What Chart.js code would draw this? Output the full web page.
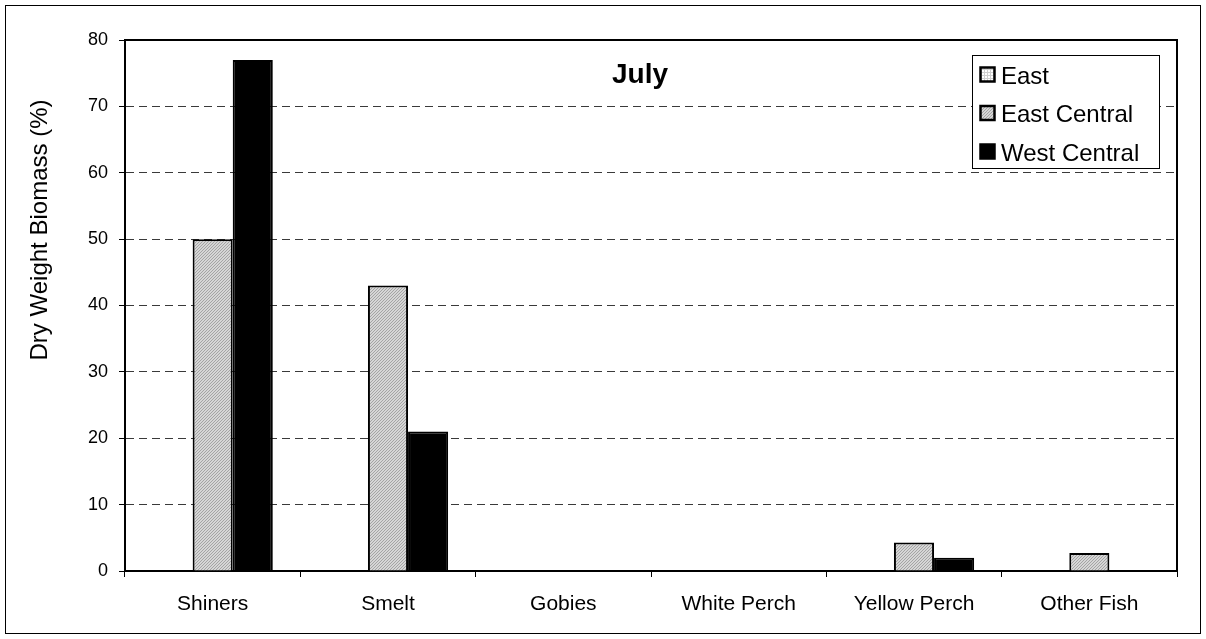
<!DOCTYPE html>
<html>
<head>
<meta charset="utf-8">
<script src="https://cdn.jsdelivr.net/npm/chart.js@4.4.1/dist/chart.umd.min.js"></script>
<style>
html, body { margin: 0; padding: 0; background: #fff; }
#wrap { width: 1206px; height: 639px; }
</style>
</head>
<body>
<div id="wrap"><canvas id="chart" width="1206" height="639"></canvas></div>
<script>
const categories = ['Shiners', 'Smelt', 'Gobies', 'White Perch', 'Yellow Perch', 'Other Fish'];
const seriesNames = ['East', 'East Central', 'West Central'];
const eastValues = [0, 0, 0, 0, 0, 0];
const eastCentralValues = [50, 43, 0, 0, 4.3, 2.7];
const westCentralValues = [77, 21, 0, 0, 2, 0];
const yMin = 0, yMax = 80, yStep = 10;
const titleText = 'July';
const yTitle = 'Dry Weight Biomass (%)';

const FONT = '"Liberation Sans", Arial, Helvetica, sans-serif';

// fill patterns like the old spreadsheet chart
function hatchPattern() {
    const c = document.createElement('canvas');
    c.width = 3; c.height = 3;
    const g = c.getContext('2d');
    g.fillStyle = '#d6d6d6';
    g.fillRect(0, 0, 3, 3);
    g.fillStyle = '#a4a4a4';
    g.fillRect(2, 0, 1, 1);
    g.fillRect(1, 1, 1, 1);
    g.fillRect(0, 2, 1, 1);
    return g.createPattern(c, 'repeat');
}

function dotPattern() {
    const c = document.createElement('canvas');
    c.width = 3; c.height = 3;
    const g = c.getContext('2d');
    g.fillStyle = '#ffffff';
    g.fillRect(0, 0, 3, 3);
    g.fillStyle = '#d0d0d0';
    g.fillRect(0, 0, 3, 1);
    g.fillRect(0, 0, 1, 3);
    return g.createPattern(c, 'repeat');
}

const eastFill = dotPattern();
const eastCentralFill = hatchPattern();
const westCentralFill = '#000000';

// frame, top/right plot edge, titles and boxed legend
const framePlugin = {
    id: 'frame',
    afterDraw(chart) {
        const { ctx, chartArea: a } = chart;
        ctx.save();
        ctx.strokeStyle = '#000';
        ctx.lineWidth = 2;
        ctx.beginPath();
        ctx.moveTo(a.left, a.top);
        ctx.lineTo(a.right, a.top);
        ctx.lineTo(a.right, a.bottom);
        ctx.stroke();

        ctx.lineWidth = 1;
        ctx.strokeRect(5.5, 5.5, 1195, 628);

        ctx.fillStyle = '#000';
        ctx.font = 'bold 28px ' + FONT;
        ctx.textAlign = 'center';
        ctx.textBaseline = 'alphabetic';
        ctx.fillText(titleText, 640, 83);

        // y axis title sits above the middle in the original
        ctx.save();
        ctx.translate(40, 230);
        ctx.rotate(-Math.PI / 2);
        ctx.font = '24px ' + FONT;
        ctx.textBaseline = 'middle';
        ctx.fillText(yTitle, 0, 0);
        ctx.restore();

        // legend
        const lx = 972, ly = 55;
        ctx.fillStyle = '#fff';
        ctx.fillRect(lx, ly, 187, 113);
        ctx.strokeStyle = '#000';
        ctx.lineWidth = 1;
        ctx.strokeRect(lx + 0.5, ly + 0.5, 187, 113);
        ctx.font = '24px ' + FONT;
        ctx.textAlign = 'left';
        chart.data.datasets.forEach((ds, i) => {
            const cy = 75 + i * 38.5;
            ctx.fillStyle = ds.backgroundColor;
            ctx.fillRect(980, cy - 8, 15, 15);
            ctx.lineWidth = 2.5;
            ctx.strokeStyle = '#000';
            ctx.strokeRect(980.5, cy - 7.5, 14, 14);
            ctx.fillStyle = '#000';
            ctx.fillText(ds.label, 1001, cy + 8.5);
        });
        ctx.restore();
    }
};

const ctx = document.getElementById('chart').getContext('2d');
new Chart(ctx, {
    type: 'bar',
    data: {
        labels: categories,
        datasets: [
            { label: seriesNames[0], data: eastValues, backgroundColor: eastFill, borderColor: '#000', borderWidth: 2 },
            { label: seriesNames[1], data: eastCentralValues, backgroundColor: eastCentralFill, borderColor: '#000', borderWidth: 2 },
            { label: seriesNames[2], data: westCentralValues, backgroundColor: westCentralFill, borderColor: '#000', borderWidth: 2 }
        ]
    },
    options: {
        responsive: false,
        animation: false,
        devicePixelRatio: 1,
        categoryPercentage: 0.686,
        barPercentage: 1.0,
        layout: { padding: { left: 0, right: 29, top: 40, bottom: 0 } },
        plugins: {
            legend: { display: false },
            tooltip: { enabled: false },
            title: { display: false }
        },
        scales: {
            x: {
                afterFit: (scale) => { scale.height = 68; },
                grid: {
                    offset: true,
                    drawOnChartArea: false,
                    drawTicks: true,
                    tickLength: 6,
                    tickColor: '#000',
                    tickWidth: 1
                },
                border: { display: true, color: '#000', width: 2 },
                ticks: {
                    color: '#000',
                    padding: 15,
                    font: { family: FONT, size: 21 }
                }
            },
            y: {
                min: yMin,
                max: yMax,
                afterFit: (scale) => { scale.width = 125; },
                ticks: {
                    stepSize: yStep,
                    color: '#000',
                    padding: 11,
                    font: { family: FONT, size: 18 }
                },
                grid: {
                    color: '#3a3a3a',
                    lineWidth: 1,
                    drawTicks: true,
                    tickLength: 6,
                    tickColor: '#000',
                    tickWidth: 1
                },
                border: { display: true, color: '#000', width: 2, dash: [8, 5] },
                title: { display: false }
            }
        }
    },
    plugins: [framePlugin]
});
</script>
</body>
</html>
